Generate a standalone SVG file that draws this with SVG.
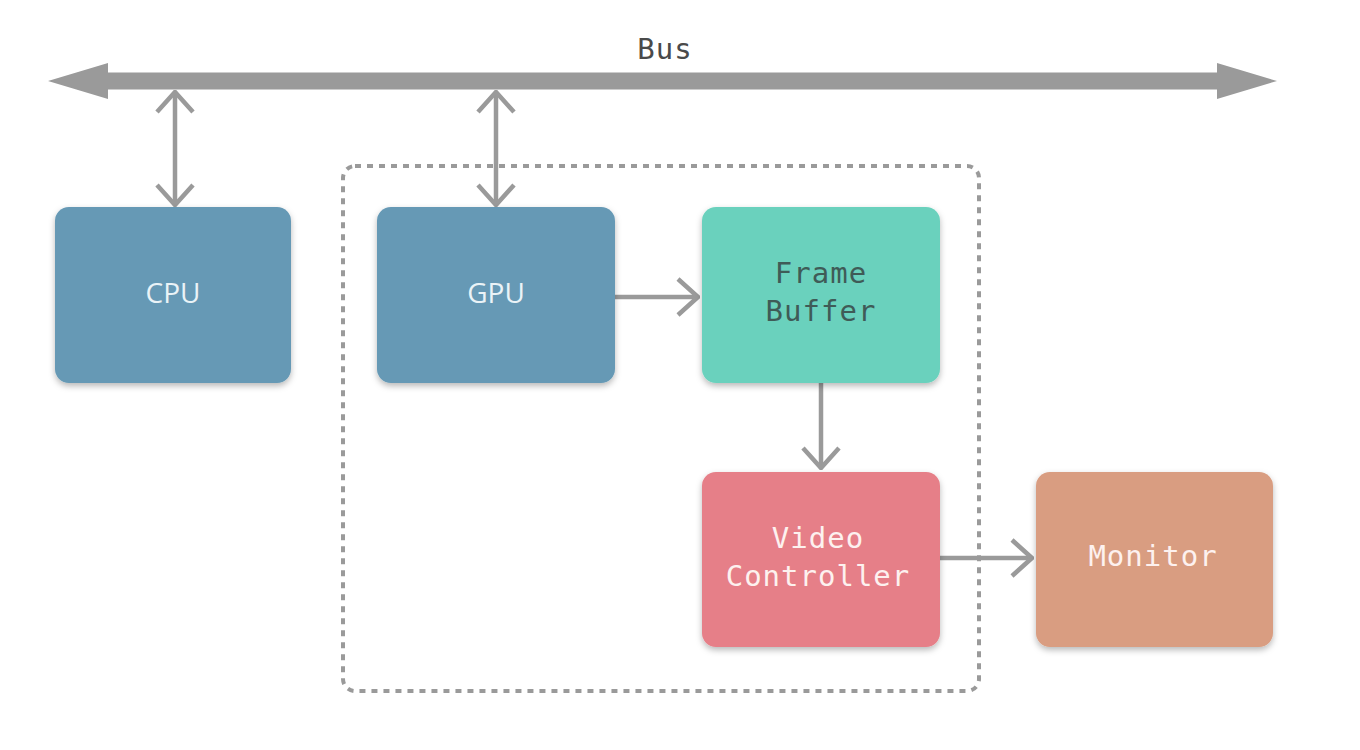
<svg xmlns="http://www.w3.org/2000/svg" width="1360" height="750" viewBox="0 0 1360 750">
  <defs>
    <filter id="shadow" x="-10%" y="-10%" width="120%" height="125%">
      <feDropShadow dx="0" dy="3" stdDeviation="3" flood-color="#000" flood-opacity="0.28"/>
    </filter>
    <marker id="chev" viewBox="0 0 24 40" refX="22" refY="20" markerWidth="24" markerHeight="40" markerUnits="userSpaceOnUse" orient="auto-start-reverse">
      <path d="M2,2 L22,20 L2,38" fill="none" stroke="#9a9a9a" stroke-width="4.5" stroke-linejoin="miter"/>
    </marker>
  </defs>
  <style>
    .box { filter: url(#shadow); }
    .blue { fill: #6699b5; }
    .teal { fill: #6bd1bd; }
    .red { fill: #e67f88; }
    .tan { fill: #d99d81; }
    .sans { font-family: "Open Sans", "DejaVu Sans", sans-serif; font-size: 28px; fill: #eaf3f7; text-anchor: middle; }
    .mono { font-family: "DejaVu Sans Mono", "Liberation Mono", monospace; font-size: 29px; letter-spacing: 1px; text-anchor: middle; }
    .dark { fill: #3f5b57; }
    .light { fill: #fdf1ef; }
    .link { stroke: #9a9a9a; stroke-width: 4.5; fill: none; }
  </style>
  <rect width="1360" height="750" fill="#ffffff"/>

  <!-- graphics card boundary -->
  <g id="gpu-group">
    <rect x="343" y="166" width="636" height="525" rx="12" fill="none" stroke="#9a9a9a" stroke-width="4" stroke-dasharray="6 6"/>
  </g>

  <!-- system bus -->
  <g id="bus">
    <path d="M48,81 L108,63 L108,72.5 L1217,72.5 L1217,63 L1277,81 L1217,99 L1217,89.5 L108,89.5 L108,99 Z" fill="#9a9a9a"/>
    <text x="665" y="59" class="mono" fill="#4a4a4a" font-size="27">Bus</text>
  </g>

  <g id="connectors">
    <line class="link" x1="175" y1="92" x2="175" y2="205" marker-start="url(#chev)" marker-end="url(#chev)"/>
    <line class="link" x1="496" y1="92" x2="496" y2="205" marker-start="url(#chev)" marker-end="url(#chev)"/>
    <line class="link" x1="615" y1="297" x2="698" y2="297" marker-end="url(#chev)"/>
    <line class="link" x1="821" y1="383" x2="821" y2="468" marker-end="url(#chev)"/>
    <line class="link" x1="940" y1="558" x2="1032" y2="558" marker-end="url(#chev)"/>
  </g>

  <g id="cpu">
    <rect class="box blue" x="55" y="207" width="236" height="176" rx="14"/>
    <text class="sans" x="173" y="303">CPU</text>
  </g>

  <g id="gpu">
    <rect class="box blue" x="377" y="207" width="238" height="176" rx="14"/>
    <text class="sans" x="496" y="303">GPU</text>
  </g>

  <g id="frame-buffer">
    <rect class="box teal" x="702" y="207" width="238" height="176" rx="14"/>
    <text class="mono dark" x="821" y="283">Frame</text>
    <text class="mono dark" x="821" y="321">Buffer</text>
  </g>

  <g id="video-controller">
    <rect class="box red" x="702" y="472" width="238" height="175" rx="14"/>
    <text class="mono light" x="818" y="548">Video</text>
    <text class="mono light" x="818" y="586">Controller</text>
  </g>

  <g id="monitor">
    <rect class="box tan" x="1036" y="472" width="237" height="175" rx="14"/>
    <text class="mono light" x="1153" y="566">Monitor</text>
  </g>
</svg>
